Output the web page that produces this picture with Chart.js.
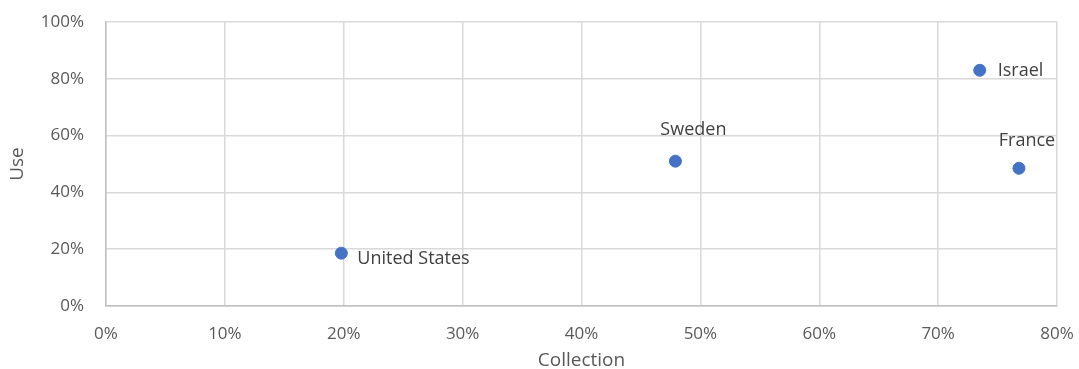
<!DOCTYPE html>
<html>
<head>
<meta charset="utf-8">
<script src="https://cdn.jsdelivr.net/npm/chart.js@4/dist/chart.umd.min.js"></script>
<style>
  html, body { margin: 0; padding: 0; background: #fff; }
  #wrap { width: 1079px; height: 369px; position: relative; }
</style>
</head>
<body>
<div id="wrap"><canvas id="c" width="1079" height="369"></canvas></div>
<script>
// Countries plotted: share of collection (x) vs share of use (y), in percent
const countries = ['United States', 'Sweden', 'Israel', 'France'];
const collection = [19.8, 47.9, 73.5, 76.8];
const use = [18.6, 51.0, 83.0, 48.5];

const xTicks = [0, 10, 20, 30, 40, 50, 60, 70, 80];
const yTicks = [0, 20, 40, 60, 80, 100];

const FONT = '"Open Sans", "Liberation Sans", sans-serif';
const TEXT = '#595959';

// Where each country's name sits relative to its marker
const labelPlacement = {
  'United States': { dx: 16, dy: 6, align: 'left' },
  'Sweden':        { dx: 18, dy: -31, align: 'center' },
  'Israel':        { dx: 18, dy: 1, align: 'left' },
  'France':        { dx: 8, dy: -27, align: 'center' }
};

const pointLabels = {
  id: 'pointLabels',
  afterDatasetsDraw(chart) {
    const { ctx, scales } = chart;
    ctx.save();
    ctx.font = '18px ' + FONT;
    ctx.fillStyle = '#404040';
    ctx.textBaseline = 'middle';
    countries.forEach((name, i) => {
      const p = labelPlacement[name];
      const x = scales.x.getPixelForValue(collection[i]);
      const y = scales.y.getPixelForValue(use[i]);
      ctx.textAlign = p.align;
      ctx.fillText(name, x + p.dx, y + p.dy);
    });
    ctx.restore();
  }
};

new Chart(document.getElementById('c'), {
  type: 'scatter',
  data: {
    datasets: [{
      data: countries.map((n, i) => ({ x: collection[i], y: use[i] })),
      backgroundColor: '#4472C4',
      borderColor: '#4472C4',
      pointRadius: 6,
      pointHoverRadius: 6
    }]
  },
  options: {
    responsive: false,
    animation: false,
    layout: { padding: { left: 0, right: 22, top: 22, bottom: 0 } },
    plugins: { legend: { display: false }, tooltip: { enabled: false } },
    scales: {
      x: {
        type: 'linear',
        min: 0, max: 80,
        afterBuildTicks(scale) { scale.ticks = xTicks.map(v => ({ value: v })); },
        afterFit(scale) {
          scale.height = 63;
          scale.paddingLeft = 0;
          scale.paddingRight = 0;
        },
        grid: { color: '#d9d9d9', lineWidth: 1.5, drawTicks: false },
        border: { color: '#bfbfbf', width: 1.5 },
        ticks: {
          padding: 18,
          color: TEXT,
          font: { family: FONT, size: 17 },
          maxRotation: 0,
          callback: v => v + '%'
        },
        title: {
          display: true,
          text: 'Collection',
          color: TEXT,
          font: { family: FONT, size: 19 },
          padding: { top: 0, bottom: -3 }
        }
      },
      y: {
        type: 'linear',
        min: 0, max: 100,
        afterBuildTicks(scale) { scale.ticks = yTicks.map(v => ({ value: v })); },
        afterFit(scale) {
          scale.width = 106;
          scale.paddingTop = 0;
          scale.paddingBottom = 0;
        },
        grid: { color: '#d9d9d9', lineWidth: 1.5, drawTicks: false },
        border: { color: '#bfbfbf', width: 1.5 },
        ticks: {
          padding: 22,
          color: TEXT,
          font: { family: FONT, size: 17 },
          callback: v => v + '%'
        },
        title: {
          display: true,
          text: 'Use',
          color: TEXT,
          font: { family: FONT, size: 19 },
          padding: { top: 6, bottom: 0 }
        }
      }
    }
  },
  plugins: [pointLabels]
});
</script>
</body>
</html>
